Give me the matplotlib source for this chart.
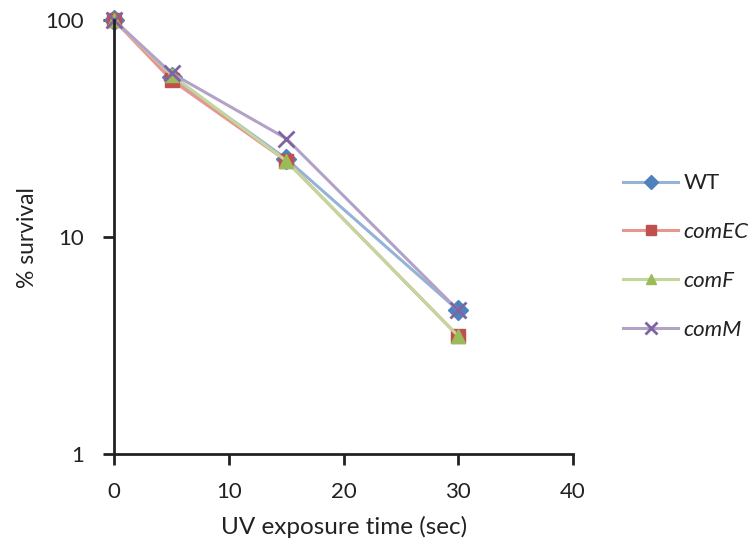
import matplotlib
matplotlib.use('Agg')
import matplotlib.pyplot as plt
from matplotlib.ticker import FixedLocator, NullLocator, FixedFormatter

plt.rcParams['font.family'] = ['Lato', 'DejaVu Sans']

# Data
time_sec = [0, 5, 15, 30]
wt = [100, 55, 23, 4.6]
com_ec = [100, 53, 22.5, 3.5]
com_f = [100, 56, 22.5, 3.5]
com_m = [100, 57, 28.5, 4.6]

series = [
    ('WT', wt, 'D', '#4F81BD', '#95B3D7', 'normal'),
    ('comEC', com_ec, 's', '#C0504D', '#E6958F', 'italic'),
    ('comF', com_f, '^', '#9BBB59', '#C3D69B', 'italic'),
    ('comM', com_m, 'x', '#8064A2', '#B3A2C7', 'italic'),
]

fig = plt.figure(figsize=(7.56, 5.46), dpi=100)
ax = fig.add_axes([0.151, 0.168, 0.607, 0.795])

handles = []
for name, vals, mk, mcol, lcol, style in series:
    msize = 10 if mk != 'x' else 11
    h, = ax.plot(time_sec, vals, color=lcol, lw=2.2, marker=mk, markersize=msize,
                 markerfacecolor=mcol, markeredgecolor=mcol,
                 markeredgewidth=2 if mk == 'x' else 1, clip_on=False)
    handles.append(h)

ax.set_yscale('log')
ax.set_ylim(1, 100)
ax.set_xlim(0, 40)
ax.yaxis.set_major_locator(FixedLocator([1, 10, 100]))
ax.yaxis.set_major_formatter(FixedFormatter(['1', '10', '100']))
ax.yaxis.set_minor_locator(NullLocator())
ax.set_xticks([0, 10, 20, 30, 40])

for s in ['top', 'right']:
    ax.spines[s].set_visible(False)
for s in ['left', 'bottom']:
    ax.spines[s].set_linewidth(2)
    ax.spines[s].set_color('#222222')
ax.tick_params(axis='both', direction='out', length=8, width=2, color='#222222',
               labelsize=16, labelcolor='#222222')
ax.tick_params(axis='x', pad=12)
ax.tick_params(axis='y', pad=14)

ax.set_xlabel('UV exposure time (sec)', fontsize=17.5, color='#222222', labelpad=10)
ax.set_ylabel('% survival', fontsize=16.5, color='#222222', labelpad=5)

leg = fig.legend(handles, [s[0] for s in series], loc='center left',
                 bbox_to_anchor=(0.798, 0.53), frameon=False, fontsize=16,
                 handlelength=2.45, labelspacing=1.3, handletextpad=0.27,
                 markerscale=0.75)
for txt, s in zip(leg.get_texts(), series):
    txt.set_fontstyle(s[5])
    txt.set_color('#222222')

fig.savefig('out.png', dpi=100)
